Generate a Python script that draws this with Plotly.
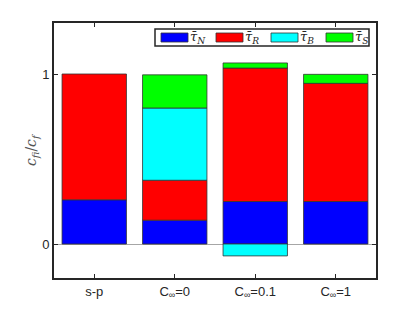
import plotly.graph_objects as go

categories = ["s-p", "C<sub>∞</sub>=0", "C<sub>∞</sub>=0.1", "C<sub>∞</sub>=1"]
tau_N = [0.26, 0.14, 0.25, 0.25]
tau_R = [0.74, 0.235, 0.785, 0.695]
tau_B = [None, 0.425, -0.07, None]
tau_S = [None, 0.195, 0.03, 0.053]

series = [
    ("τ̄<sub>N</sub>", tau_N, "#0000ff"),
    ("τ̄<sub>R</sub>", tau_R, "#ff0000"),
    ("τ̄<sub>B</sub>", tau_B, "#00ffff"),
    ("τ̄<sub>S</sub>", tau_S, "#00ff00"),
]

xpos = [1, 2, 3, 4]
fig = go.Figure()
for name, vals, col in series:
    fig.add_trace(go.Bar(x=xpos, y=vals, name=name, width=0.8,
                         marker=dict(color=col, line=dict(color="#333333", width=0.8)),
                         showlegend=False))

font = "Liberation Sans, Arial, sans-serif"
fig.update_layout(
    width=407, height=304,
    margin=dict(l=46, r=39, t=15, b=34),
    paper_bgcolor="white", plot_bgcolor="white",
    barmode="relative",
    font=dict(family=font, size=13, color="#262626"),
)
fig.update_xaxes(range=[0.5, 4.5], tickvals=xpos, ticktext=categories,
                 ticks="inside", ticklen=4, tickwidth=1.2, tickcolor="#262626",
                 showline=True, linecolor="#262626", linewidth=1.8, mirror="ticks",
                 showgrid=False, zeroline=False, automargin=False)
fig.update_yaxes(range=[-0.2, 1.3], tickvals=[0, 1], ticktext=["0", "1"],
                 ticks="inside", ticklen=4, tickwidth=1.2, tickcolor="#262626",
                 showline=True, linecolor="#262626", linewidth=1.8, mirror="ticks",
                 showgrid=False, zeroline=True, zerolinecolor="#a6a6a6", zerolinewidth=1,
                 automargin=False)

# coordinates relative to plot area
W, H = 322, 255
def px(x):
    return (x - 54) / W
def py(y):
    return 1 - (y - 23) / H

# y-axis title
fig.add_annotation(xref="paper", yref="paper", x=px(32), y=py(150),
                   text="<i>c</i><sub><i>fi</i></sub>/<i>c</i><sub><i>f</i></sub>",
                   textangle=-90, showarrow=False, xanchor="center", yanchor="middle",
                   font=dict(family="DejaVu Serif, serif", size=14, color="#555555"))

# manual legend box (top right, inside axes)
fig.add_shape(type="rect", xref="paper", yref="paper",
              x0=px(155), x1=px(369), y0=py(46), y1=py(29),
              line=dict(color="#262626", width=1.5), fillcolor="white")
starts = [158, 213, 268, 323]
for (name, vals, col), sx in zip(series, starts):
    fig.add_shape(type="rect", xref="paper", yref="paper",
                  x0=px(sx + 3), x1=px(sx + 30), y0=py(42), y1=py(33),
                  line=dict(color="#333333", width=0.8), fillcolor=col)
    fig.add_annotation(xref="paper", yref="paper", x=px(sx + 30), y=py(37.5),
                       text="<i>" + name + "</i>", showarrow=False,
                       xanchor="left", yanchor="middle",
                       font=dict(family="DejaVu Serif, serif", size=13, color="#262626"))

fig.write_html("out.html")
